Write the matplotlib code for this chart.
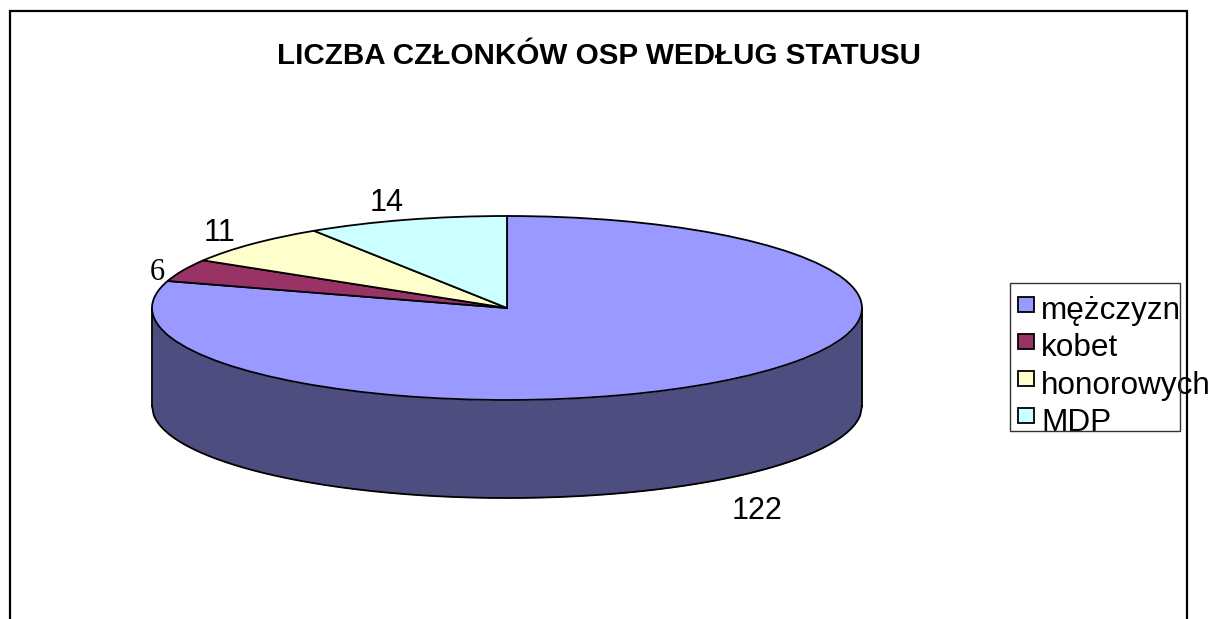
import numpy as np
import matplotlib
matplotlib.use("Agg")
import matplotlib.pyplot as plt
from matplotlib.patches import Rectangle

# Dane
kategorie = ["mężczyzn", "kobet", "honorowych", "MDP"]
wartosci = [122, 6, 11, 14]
etykiety = ["122", "6", "11", "14"]

# Kolory
KOLORY = ["#9999FF", "#993366", "#FFFFCC", "#CCFFFF"]
KOLOR_BOKU = "#4D4D80"

# Geometria w pikselach
W, H = 1214, 619
CX, CY, RX, RY = 507, 308, 355, 92
GLEBOKOSC = 98 / RY

plt.rcParams["font.family"] = ["Liberation Sans", "DejaVu Sans"]

fig = plt.figure(figsize=(W / 100, H / 100), dpi=100, facecolor="white")

# Os kolowa: jednostka to promien, wiec elipsa wychodzi ze skali osi
ax = fig.add_axes([0, 0, 1, 1])
ax.pie(wartosci, colors=KOLORY, startangle=90, counterclock=False, radius=1,
       wedgeprops={"edgecolor": "black", "linewidth": 1.3, "zorder": 3})
ax.set_aspect("auto")
ax.set_xlim(-CX / RX, (W - CX) / RX)
ax.set_ylim((CY - H) / RY, CY / RY)

# Bok walca
x = np.linspace(-1, 1, 400)
dol = -np.sqrt(1 - x**2)
ax.fill_between(x, dol, dol - GLEBOKOSC, color=KOLOR_BOKU, lw=0, zorder=1)
ax.plot(x, dol - GLEBOKOSC, color="black", lw=1.3, zorder=2)
ax.plot([-1, -1], [0, -GLEBOKOSC], color="black", lw=1.3, zorder=2)
ax.plot([1, 1], [0, -GLEBOKOSC], color="black", lw=1.3, zorder=2)

# Nakladka w pikselach: ramka, tytul, etykiety, legenda
over = fig.add_axes([0, 0, 1, 1], facecolor="none")
over.set_xlim(0, W)
over.set_ylim(H, 0)
over.axis("off")

over.plot([9.5, 9.5, 1186.5, 1186.5], [H, 11, 11, H], color="black", lw=1.6,
          zorder=6, solid_joinstyle="miter")

over.text(598.5, 56, "LICZBA CZŁONKÓW OSP WEDŁUG STATUSU", ha="center", va="center",
          fontsize=21.3, fontweight="bold")

pozycje = [(757, 511), (157, 273), (219, 233), (387, 203)]
for tekst, (px, py) in zip(etykiety, pozycje):
    rodzina = "Liberation Serif" if tekst == "6" else "Liberation Sans"
    over.text(px, py, tekst, ha="center", va="center", fontsize=22, family=rodzina)

# Legenda: ramka ma stala wielkosc, tekst z niej wystaje jak w oryginale
over.add_patch(Rectangle((1009.5, 283), 170.5, 148, fill=False, edgecolor="#333333",
                         lw=1, zorder=5))
for i, (nazwa, kolor) in enumerate(zip(kategorie, KOLORY)):
    over.add_patch(Rectangle((1018, 296.5 + i * 37), 15.5, 15.5, facecolor=kolor,
                             edgecolor="black", lw=1.3, zorder=5))
    over.text(1041, 319 + i * 37.3, nazwa, ha="left", va="baseline", fontsize=22.7, zorder=4)

fig.savefig("out.png", dpi=100)
